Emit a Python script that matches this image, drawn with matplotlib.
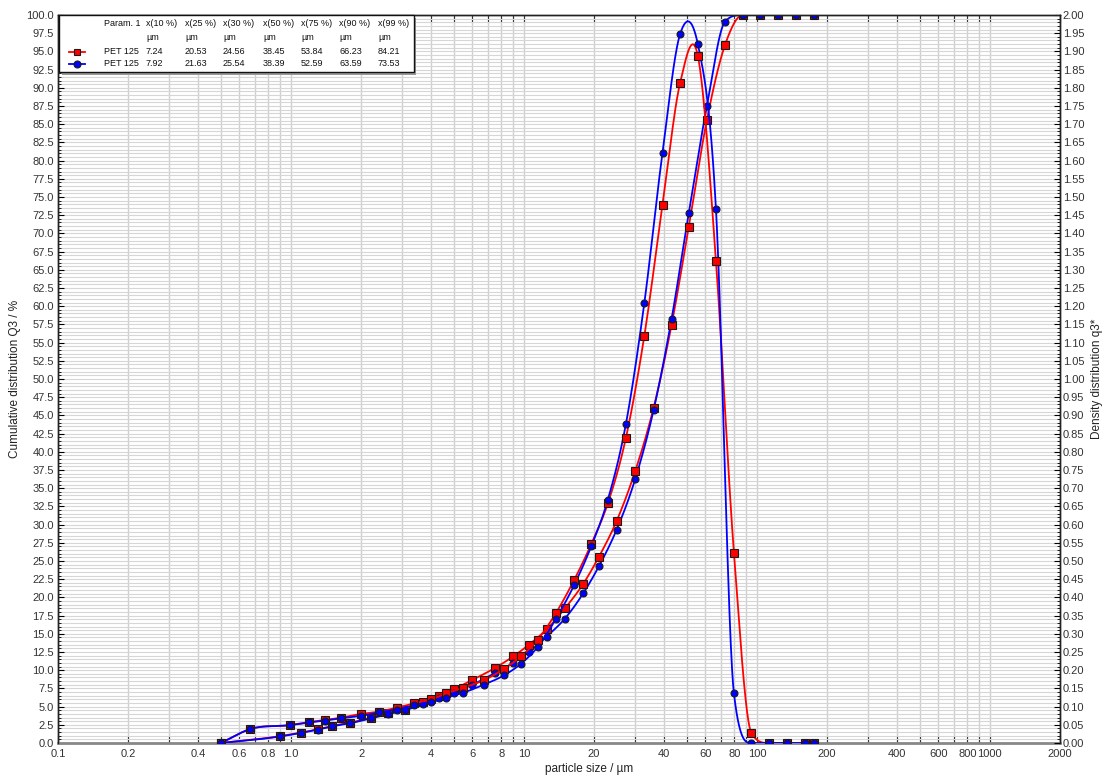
import numpy as np
import matplotlib
matplotlib.use("Agg")
import matplotlib.pyplot as plt
from matplotlib.lines import Line2D
from matplotlib.patches import Rectangle
from matplotlib.ticker import FixedLocator, FixedFormatter, MultipleLocator, FormatStrFormatter, NullFormatter

plt.rcParams['font.family'] = ['Liberation Sans', 'DejaVu Sans']

# ---- data -------------------------------------------------------------
# upper class limits (µm) used for the cumulative distribution Q3
size_cum = [0.5, 0.9, 1.1, 1.3, 1.5, 1.8, 2.2, 2.6, 3.1, 3.7, 4.3, 5.0, 6.0, 7.5,
            9.0, 10.5, 12.5, 15, 18, 21, 25, 30, 36, 43, 51, 61, 73, 87,
            103, 123, 147, 175]
Q3_red = [0, 0.95, 1.42, 1.88, 2.34, 2.8, 3.48, 4.07, 4.6, 5.6, 6.5, 7.4, 8.65, 10.3,
          11.9, 13.5, 15.6, 18.5, 21.9, 25.6, 30.5, 37.3, 46.0, 57.4, 70.9, 85.6, 95.9, 100,
          100, 100, 100, 100]
Q3_blue = [0, 0.9, 1.38, 1.83, 2.28, 2.72, 3.38, 3.95, 4.5, 5.4, 6.2, 6.9, 8.0, 9.6,
           11.0, 12.5, 14.6, 17.1, 20.6, 24.3, 29.3, 36.2, 45.7, 58.2, 72.8, 87.5, 99.1, 100,
           100, 100, 100, 100]

# class centres (µm) used for the density distribution q3*
size_dens = [0.5, 0.67, 0.99, 1.2, 1.4, 1.64, 1.99, 2.39, 2.84, 3.39, 3.99, 4.64, 5.48,
             6.71, 8.22, 9.72, 11.46, 13.69, 16.43, 19.44, 22.91, 27.39, 32.86, 39.34,
             46.83, 55.78, 66.73, 79.69, 94.68, 112.4, 134.5, 160.4, 175]
q3_red = [0, 0.0384, 0.0494, 0.0576, 0.0632, 0.0696, 0.0796, 0.086, 0.097, 0.109, 0.12,
          0.136, 0.152, 0.172, 0.204, 0.238, 0.284, 0.356, 0.448, 0.546, 0.658, 0.838,
          1.118, 1.478, 1.814, 1.888, 1.324, 0.522, 0.028, 0, 0, 0, 0]
q3_blue = [0, 0.0384, 0.049, 0.0564, 0.0616, 0.068, 0.0742, 0.084, 0.092, 0.104, 0.112,
           0.124, 0.138, 0.160, 0.186, 0.218, 0.264, 0.340, 0.434, 0.540, 0.668, 0.876,
           1.208, 1.622, 1.948, 1.920, 1.466, 0.136, 0, 0, 0, 0, 0]

# characteristic sizes shown in the table
table_header = ["Param. 1", "x(10 %)", "x(25 %)", "x(30 %)", "x(50 %)",
                "x(75 %)", "x(90 %)", "x(99 %)"]
table_unit = "µm"
sample_names = ["PET 125", "PET 125"]
pct_red = [7.24, 20.53, 24.56, 38.45, 53.84, 66.23, 84.21]
pct_blue = [7.92, 21.63, 25.54, 38.39, 52.59, 63.59, 73.53]

xtick_values = [0.1, 0.2, 0.4, 0.6, 0.8, 1.0, 2, 4, 6, 8, 10, 20, 40, 60, 80,
                100, 200, 400, 600, 800, 1000, 2000]
xtick_labels = ["0.1", "0.2", "0.4", "0.6", "0.8", "1.0", "2", "4", "6", "8", "10",
                "20", "40", "60", "80", "100", "200", "400", "600", "800", "1000", "2000"]

RED = "#ff0000"
BLUE = "#0000ff"
EDGE = "#1a1a1a"


def smooth_curve(x, y, n=40):
    """Cubic Hermite spline in log10(x). Segments next to a plateau are limited
    so the curve runs into the plateau without overshoot; elsewhere the
    central-difference tangents keep the rounded peaks."""
    lx = np.log10(np.asarray(x, float))
    y = np.asarray(y, float)
    m = np.gradient(y, lx)
    d = np.diff(y) / np.diff(lx)
    k = len(lx)
    for i in range(k - 1):
        if d[i] == 0:
            m[i] = 0.0
            m[i + 1] = 0.0
    for i in range(k - 1):
        if d[i] == 0:
            continue
        near_flat = (i > 0 and d[i - 1] == 0) or (i < k - 2 and d[i + 1] == 0)
        if not near_flat:
            continue
        for j in (i, i + 1):
            a = m[j] / d[i]
            if a < 0:
                m[j] = 0.0
            elif a > 3:
                m[j] = 3 * d[i]
    xs, ys = [], []
    for i in range(k - 1):
        h = lx[i + 1] - lx[i]
        t = np.linspace(0, 1, n, endpoint=False)
        h00 = 2 * t**3 - 3 * t**2 + 1
        h10 = t**3 - 2 * t**2 + t
        h01 = -2 * t**3 + 3 * t**2
        h11 = t**3 - t**2
        ys.append(h00 * y[i] + h10 * h * m[i] + h01 * y[i + 1] + h11 * h * m[i + 1])
        xs.append(lx[i] + t * h)
    xs.append([lx[-1]])
    ys.append([y[-1]])
    return 10 ** np.concatenate(xs), np.concatenate(ys)


W, H = 1104, 776
fig = plt.figure(figsize=(W / 100, H / 100), dpi=100)
L, R, T, B = 58, 1060, 15, 743
ax = fig.add_axes([L / W, 1 - B / H, (R - L) / W, (B - T) / H])
ax2 = ax.twinx()

# ---- axes setup -------------------------------------------------------
ax.set_xscale("log")
ax.set_xlim(0.1, 2000)
ax.set_ylim(0, 100)
ax2.set_ylim(0, 2.0)

major_x = [m * 10.0**e for e in range(-1, 3) for m in range(1, 10)] + [1000, 2000]
labels_x = []
for v in major_x:
    lab = ""
    for tv, tl in zip(xtick_values, xtick_labels):
        if abs(v - tv) < 1e-9 * max(1, tv):
            lab = tl
    labels_x.append(lab)
ax.xaxis.set_major_locator(FixedLocator(major_x))
ax.xaxis.set_major_formatter(FixedFormatter(labels_x))
ax.xaxis.set_minor_locator(FixedLocator([]))
ax.xaxis.set_minor_formatter(NullFormatter())

ax.yaxis.set_major_locator(MultipleLocator(2.5))
ax.yaxis.set_major_formatter(FormatStrFormatter("%.1f"))
ax.yaxis.set_minor_locator(MultipleLocator(0.5))
ax2.yaxis.set_major_locator(MultipleLocator(0.05))
ax2.yaxis.set_major_formatter(FormatStrFormatter("%.2f"))
ax2.yaxis.set_minor_locator(MultipleLocator(0.01))

tick_color = "#333333"
ax.tick_params(axis="x", which="major", direction="in", length=5, width=0.8,
               labelsize=8, pad=4, labelcolor=tick_color, top=True, color="#333333")
ax.tick_params(axis="y", which="major", direction="in", length=4, width=0.8,
               labelsize=8, pad=3, labelcolor=tick_color)
ax.tick_params(axis="y", which="minor", direction="in", length=2, width=0.6)
ax2.tick_params(axis="y", which="major", direction="in", length=4, width=0.8,
                labelsize=8, pad=2, labelcolor=tick_color)
ax2.tick_params(axis="y", which="minor", direction="in", length=2, width=0.6)

ax.grid(True, which="minor", axis="y", color="#d6d6d6", lw=0.8)
ax.grid(True, which="major", axis="y", color="#d6d6d6", lw=0.8)
ax.grid(True, which="major", axis="x", color="#cfcfcf", lw=1.0)
ax.set_axisbelow(True)

for sp in ("left", "top", "right"):
    ax.spines[sp].set_color("#222222")
    ax2.spines[sp].set_color("#222222")
    ax.spines[sp].set_linewidth(1.0)
    ax2.spines[sp].set_linewidth(1.0)
ax.spines["bottom"].set_color("#888888")
ax.spines["bottom"].set_linewidth(2.0)
ax2.spines["bottom"].set_visible(False)

ax.set_xlabel("particle size / µm", fontsize=8.5, color="#222222")
ax.xaxis.set_label_coords(0.53, -0.028)
ax.set_ylabel("Cumulative distribution Q3 / %", fontsize=8.5, color="#222222")
ax.yaxis.set_label_coords(-0.037, 0.5)
ax2.set_ylabel("Density distribution q3*", fontsize=8.5, color="#222222")
ax2.yaxis.set_label_coords(1.031, 0.5)

# ---- curves -----------------------------------------------------------
mk_red = dict(marker="s", markersize=5.5, markerfacecolor=RED, markeredgecolor=EDGE,
              markeredgewidth=0.8, linestyle="none")
mk_blue = dict(marker="o", markersize=5.0, markerfacecolor=BLUE, markeredgecolor=EDGE,
               markeredgewidth=0.8, linestyle="none")

for xs, ys, axis, col, mk in [
        (size_cum, Q3_red, ax, RED, mk_red),
        (size_dens, q3_red, ax2, RED, mk_red),
        (size_cum, Q3_blue, ax, BLUE, mk_blue),
        (size_dens, q3_blue, ax2, BLUE, mk_blue)]:
    sx, sy = smooth_curve(xs, ys)
    axis.plot(sx, sy, color=col, lw=1.3, zorder=3)
    axis.plot(xs, ys, zorder=4, **mk)

# ---- result table -----------------------------------------------------
def fx(px):
    return px / W


def fy(py):
    return 1 - py / H


shadow = Rectangle((fx(62), fy(75)), fx(414) - fx(60), fy(15) - fy(72),
                   transform=fig.transFigure, facecolor="#9a9a9a", edgecolor="none",
                   zorder=9)
box = Rectangle((fx(59), fy(72)), fx(414) - fx(59), fy(15) - fy(72),
                transform=fig.transFigure, facecolor="white", edgecolor="#111111",
                lw=1.0, zorder=10)
fig.add_artist(shadow)
fig.add_artist(box)

col_x = [104, 146, 185, 223, 263, 301, 339, 378]
row_y = [24, 38, 51.5, 63.5]
tfont = dict(fontsize=6.5, color="#111111", va="center", ha="left", zorder=11,
             transform=fig.transFigure)
for cx, h in zip(col_x, table_header):
    fig.text(fx(cx), fy(row_y[0]), h, **tfont)
for cx in col_x[1:]:
    fig.text(fx(cx), fy(row_y[1]), table_unit, **tfont)
for ry, name, vals, col, mk in [(row_y[2], sample_names[0], pct_red, RED, "s"),
                                (row_y[3], sample_names[1], pct_blue, BLUE, "o")]:
    fig.text(fx(col_x[0]), fy(ry), name, **tfont)
    for cx, v in zip(col_x[1:], vals):
        fig.text(fx(cx), fy(ry), f"{v:.2f}", **tfont)
    fig.add_artist(Line2D([fx(69), fx(77), fx(85)], [fy(ry)] * 3, transform=fig.transFigure,
                          color=col, lw=1.3, marker=mk, markevery=[1],
                          markersize=5.0, markerfacecolor=col, markeredgecolor=EDGE,
                          markeredgewidth=0.8, zorder=11))

fig.savefig("out.png", dpi=100)
